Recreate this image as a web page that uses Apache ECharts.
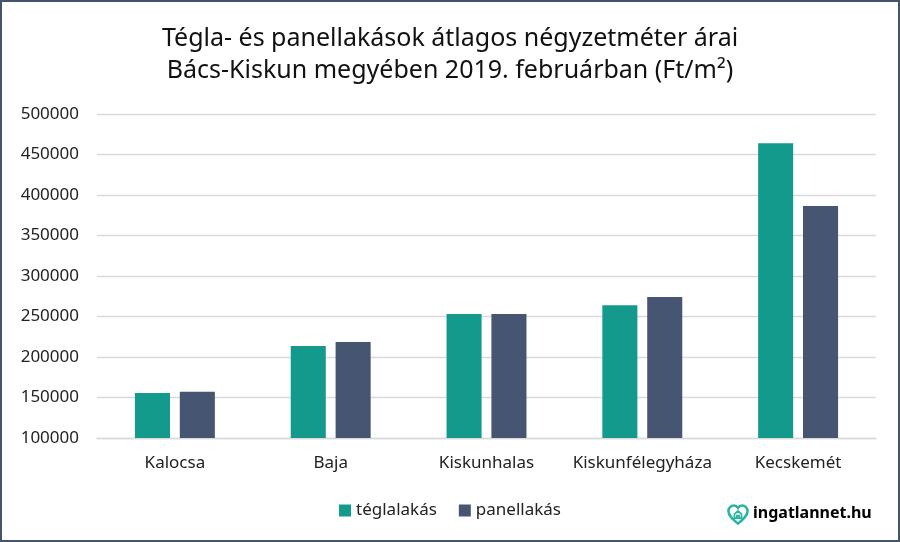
<!DOCTYPE html>
<html>
<head>
<meta charset="utf-8">
<script src="https://cdn.jsdelivr.net/npm/echarts@6/dist/echarts.min.js"></script>
<style>
  html, body { margin: 0; padding: 0; background: #fff; }
  #chart { width: 900px; height: 542px; box-sizing: border-box; border: 2px solid #44546a; }
</style>
</head>
<body>
<div id="chart"></div>
<script>
// városok és átlagos négyzetméterárak (Ft/m²)
var cities = ['Kalocsa', 'Baja', 'Kiskunhalas', 'Kiskunfélegyháza', 'Kecskemét']
var teglaPrices = [155500, 213500, 253000, 264000, 464000]
var panelPrices = [157000, 218500, 253000, 274000, 386500]
var seriesNames = ['téglalakás', 'panellakás']

var FONT = 'Noto Sans'
var TEAL = '#139a8c'
var NAVY = '#465571'

// szív + ház ikon a logóhoz
var heartSvg = '<svg xmlns="http://www.w3.org/2000/svg" width="22" height="22" viewBox="-1.5 -1.5 23 23">' +
  '<path d="M10 19 C4 14 0 10.5 0 6 C0 2.7 2.6 0 5.7 0 C7.6 0 9 1 10 2.6 C11 1 12.4 0 14.3 0 C17.4 0 20 2.7 20 6 C20 10.5 16 14 10 19 Z" fill="none" stroke="#2ab3a0" stroke-width="2.6"/>' +
  '<path d="M6.3 9 L10 5.8 L13.7 9 L13.7 13.2 L6.3 13.2 Z M8.8 13.2 L8.8 10.6 L11.2 10.6 L11.2 13.2" fill="none" stroke="#2ab3a0" stroke-width="1.8"/>' +
  '</svg>'
var heartUri = 'data:image/svg+xml;charset=utf-8,' + encodeURIComponent(heartSvg)

var chart = echarts.init(document.getElementById('chart'))

var option = {
  animation: false,
  textStyle: { fontFamily: FONT },
  title: {
    text: 'Tégla- és panellakások átlagos négyzetméter árai\nBács-Kiskun megyében 2019. februárban (Ft/m²)',
    left: 'center',
    top: 16,
    textStyle: {
      fontFamily: FONT,
      fontSize: 25,
      fontWeight: 'normal',
      color: '#111',
      lineHeight: 32
    }
  },
  legend: {
    data: seriesNames,
    bottom: 16,
    left: 'center',
    itemWidth: 12,
    itemHeight: 12,
    itemGap: 22,
    icon: 'rect',
    textStyle: { fontFamily: FONT, fontSize: 17, color: '#222' }
  },
  grid: {
    left: 95,
    right: 22,
    top: 112,
    bottom: 102
  },
  xAxis: {
    type: 'category',
    data: cities,
    axisLine: { lineStyle: { color: '#d9d9d9', width: 1.3 } },
    axisTick: { show: false },
    axisLabel: { interval: 0, fontFamily: FONT, fontSize: 17, color: '#222', margin: 17 }
  },
  yAxis: {
    type: 'value',
    min: 100000,
    max: 500000,
    interval: 50000,
    axisLine: { show: false },
    axisTick: { show: false },
    splitLine: { lineStyle: { color: '#d9d9d9', width: 1.3 } },
    axisLabel: {
      fontFamily: FONT,
      fontSize: 17,
      color: '#222',
      margin: 18,
      formatter: function(v) { return String(v) }
    }
  },
  series: [
    {
      name: seriesNames[0],
      type: 'bar',
      data: teglaPrices,
      barWidth: '22.5%',
      barGap: '28%',
      itemStyle: { color: TEAL }
    },
    {
      name: seriesNames[1],
      type: 'bar',
      data: panelPrices,
      barWidth: '22.5%',
      itemStyle: { color: NAVY }
    }
  ],
  graphic: [
    {
      type: 'image',
      left: 725,
      top: 502,
      style: { image: heartUri, width: 22, height: 22 }
    },
    {
      type: 'text',
      left: 751,
      top: 503,
      style: {
        text: '{a|ingatlannet}{b|.hu}',
        rich: {
          a: { fontFamily: FONT, fontSize: 16, fontWeight: 'bold', color: '#4a5570' },
          b: { fontFamily: FONT, fontSize: 16, fontWeight: 'bold', color: '#1fa898' }
        }
      }
    }
  ]
}

chart.setOption(option)
</script>
</body>
</html>
